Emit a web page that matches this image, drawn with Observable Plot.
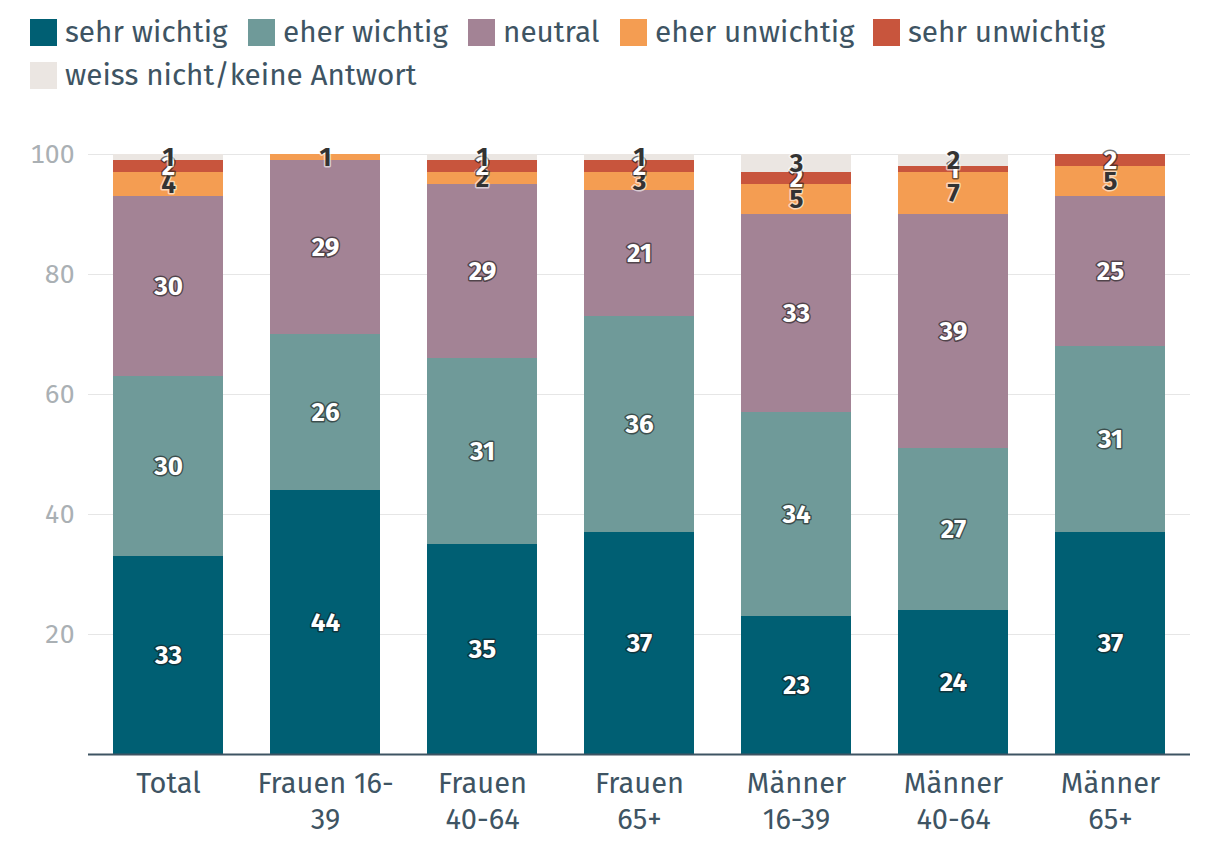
<!DOCTYPE html>
<html><head><meta charset="utf-8">
<script src="https://cdn.jsdelivr.net/npm/d3@7"></script>
<script src="https://cdn.jsdelivr.net/npm/@observablehq/plot@0.6"></script>
<style>
body{margin:0;background:#fff;font-family:"Fira Sans",Roboto,"Noto Sans",sans-serif;}
#legend{position:relative;height:110px;width:1220px;}
.item{position:absolute;display:flex;align-items:center;font-size:29.7px;color:#3e5463;white-space:nowrap;}
.sw{width:27px;height:27px;margin-right:8px;}
#chart{position:absolute;top:110px;left:0;}
</style></head><body>
<div id="legend"></div>
<div id="chart"></div>
<script>
const categories = ["Total","Frauen 16-39","Frauen 40-64","Frauen 65+","Männer 16-39","Männer 40-64","Männer 65+"];
const tickLabels = ["Total","Frauen 16-\n39","Frauen\n40-64","Frauen\n65+","Männer\n16-39","Männer\n40-64","Männer\n65+"];
const seriesNames = ["sehr wichtig","eher wichtig","neutral","eher unwichtig","sehr unwichtig","weiss nicht/keine Antwort"];
const colors = ["#005f73","#6f9a99","#a38395","#f49d52","#c8553d","#ebe6e2"];
const sehrWichtig   = [33,44,35,37,23,24,37];
const eherWichtig   = [30,26,31,36,34,27,31];
const neutral       = [30,29,29,21,33,39,25];
const eherUnwichtig = [4,1,2,3,5,7,5];
const sehrUnwichtig = [2,0,2,2,2,1,2];
const weissNicht    = [1,0,1,1,3,2,0];
const seriesValues = [sehrWichtig,eherWichtig,neutral,eherUnwichtig,sehrUnwichtig,weissNicht];
const darkLabel = [false,false,false,true,false,true];

const data = [];
seriesNames.forEach((s,si)=>categories.forEach((c,ci)=>data.push({cat:c,series:s,value:seriesValues[si][ci],dark:darkLabel[si]})));

// legend
const legendPos = [[30,34],[248,34],[468,34],[620,34],[873,34],[30,77]];
const leg = document.getElementById("legend");
seriesNames.forEach((s,i)=>{
  const d=document.createElement("div");d.className="item";
  d.style.left=legendPos[i][0]+"px";d.style.top=(legendPos[i][1]-20)+"px";
  d.innerHTML=`<span class="sw" style="background:${colors[i]}"></span><span>${s}</span>`;
  leg.appendChild(d);
});

const stackOpts = {order: seriesNames};
const chart = Plot.plot({
  width:1220, height:744,
  marginLeft:88, marginRight:30, marginTop:44, marginBottom:100,
  style:{fontFamily:'"Fira Sans",Roboto,"Noto Sans",sans-serif', background:"#fff"},
  x:{domain:categories, paddingInner:0.3, paddingOuter:0.15, label:null},
  y:{domain:[0,100], label:null, ticks:[20,40,60,80,100]},
  color:{domain:seriesNames, range:colors},
  marks:[
    Plot.gridY([20,40,60,80,100],{stroke:"#e6e6e6",strokeOpacity:1}),
    Plot.axisY([20,40,60,80,100],{tickSize:0,tickPadding:14,fontSize:26.5,fill:"#aab0b4",label:null}),
    Plot.barY(data, Plot.stackY({...stackOpts, x:"cat", y:"value", z:"series", fill:"series"})),
    Plot.ruleY([0],{stroke:"#3e5463",strokeWidth:2}),
    Plot.axisX({tickSize:0,tickPadding:13,fontSize:29,fill:"#3e5463",lineHeight:1.24,label:null,
      tickFormat:(d)=>tickLabels[categories.indexOf(d)]}),
    Plot.text(data, Plot.stackY({...stackOpts, x:"cat", y:"value", z:"series",
      text:d=>d.value>0?String(d.value):null,
      fill:d=>d.dark?"#333333":"#ffffff",
      stroke:d=>d.dark?"#ffffff":"#1a1a1a",
      strokeWidth:3, strokeOpacity:0.6, fontSize:26, fontWeight:"bold"}))
  ]
});
document.getElementById("chart").appendChild(chart);
</script>
</body></html>
